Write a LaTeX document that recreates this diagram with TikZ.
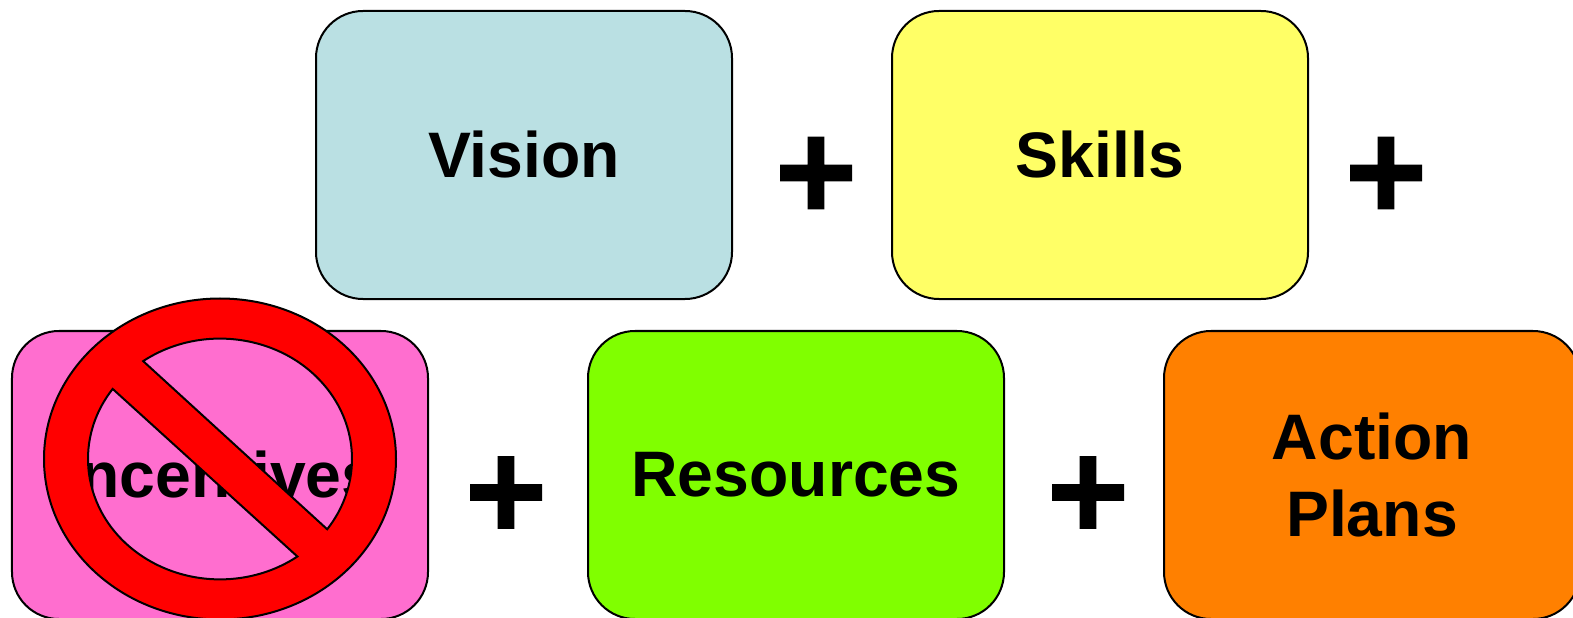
\documentclass[tikz,border=0pt]{standalone}
\usepackage{fontspec}
\setmainfont{Liberation Sans}
\usetikzlibrary{calc}
\newcommand{\lVision}{Vision}
\newcommand{\lSkills}{Skills}
\newcommand{\lIncentives}{Incentives}
\newcommand{\lResources}{Resources}
\newcommand{\lActionPlans}{Action\\Plans}
\definecolor{themeVision}{RGB}{186, 224, 227}
\definecolor{themeSkills}{RGB}{255, 255, 102}
\definecolor{themeIncentives}{RGB}{255, 110, 207}
\definecolor{themeResources}{RGB}{128, 255, 0}
\definecolor{themeActions}{RGB}{255, 128, 0}

\begin{document}
\begin{tikzpicture} [
        box/.style={draw, line width=0.02cm, rounded corners=0.47cm, minimum width=4.16cm, minimum height=2.88cm, align=center, font=\fontsize{18.3}{21.9}\selectfont\bfseries},
        plus sign/.style={inner sep=0pt, font=\fontsize{40}{40}\selectfont\bfseries\addfontfeature{FakeBold=1}},
        no sign/.style={draw, line width=0.02cm, fill=red, even odd rule}
    ]
    \useasboundingbox (0,0) rectangle (15.73,-6.18);

    \path (5.24,-1.55) node[box, fill=themeVision] (vision) { \lVision };
    \path (vision.east) ++(1.58,0) node[box, anchor=west, fill=themeSkills] (skills) { \lSkills };
    \path (2.2,-4.75) node[box, fill=themeIncentives] (incentives) { \lIncentives };
    \path (incentives.east) ++(1.58,0) node[box, anchor=west, fill=themeResources] (resources) { \lResources };
    \path (resources.east) ++(1.58,0) node[box, anchor=west, fill=themeActions] (action plans) { \lActionPlans };

    \path (vision.east) ++(0.83,-0.235) node[plus sign] (plus vision) {+};
    \path (skills.east) ++(0.77,-0.235) node[plus sign] (plus skills) {+};
    \path (incentives.east) ++(0.77,-0.23) node[plus sign] (plus incentives) {+};
    \path (resources.east) ++(0.83,-0.23) node[plus sign] (plus resources) {+};

    \coordinate (ban) at (2.2,-4.59);
    \path[no sign] (ban) ellipse [x radius=1.76, y radius=1.605]
        ($ (ban)+(125.6:1.32 and 1.204) $) arc [start angle=125.6, end angle=-35.7, x radius=1.32, y radius=1.204] -- cycle
        ($ (ban)+(144.4:1.32 and 1.204) $) arc [start angle=144.4, end angle=305.9, x radius=1.32, y radius=1.204] -- cycle;

\end{tikzpicture}
\end{document}
